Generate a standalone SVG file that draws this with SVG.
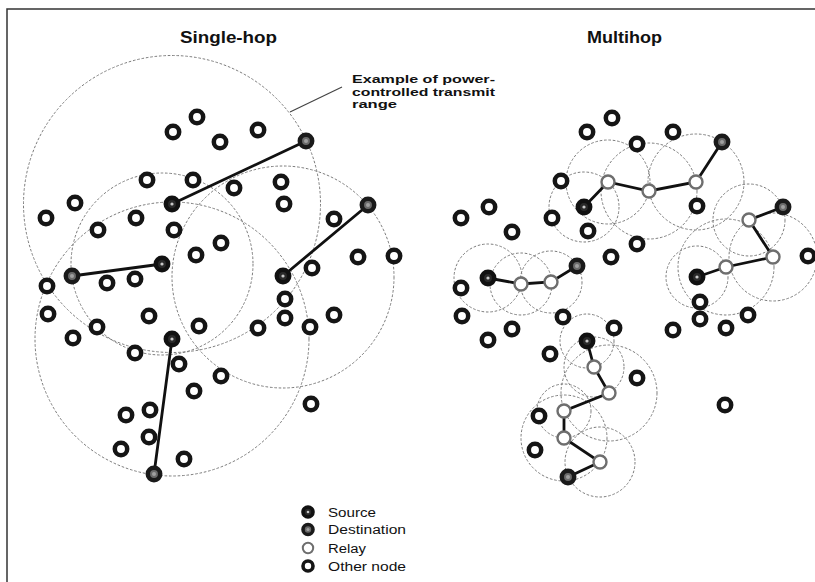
<svg xmlns="http://www.w3.org/2000/svg" xmlns:xlink="http://www.w3.org/1999/xlink" width="815" height="582" viewBox="0 0 815 582">
  <style>
    .frame { stroke: #333; stroke-width: 1.5; fill: none; }
    .title { font-family: "Liberation Sans", Arial, sans-serif; font-weight: bold; font-size: 16px; fill: #111; }
    .note { font-family: "Liberation Sans", Arial, sans-serif; font-weight: bold; font-size: 10.5px; fill: #111; }
    .key { font-family: "Liberation Sans", Arial, sans-serif; font-size: 12.5px; fill: #111; }
    .range { fill: none; stroke: #7c7c7c; stroke-width: 1; stroke-dasharray: 2.6 1.8; }
    .link { stroke: #111; stroke-width: 2.8; stroke-linecap: round; fill: none; }
    .leader { stroke: #444; stroke-width: 1.2; fill: none; }
  </style>
  <defs>
    <!-- node glyphs -->
    <g id="o"><circle r="6.2" fill="#fff" stroke="#151515" stroke-width="4.5"/></g>
    <g id="r"><circle r="6.5" fill="#fff" stroke="#6e6e6e" stroke-width="2.4"/></g>
    <g id="s"><circle r="6.2" fill="#2a2a2a" stroke="#111" stroke-width="4.5"/><circle r="1.6" fill="#c8c8c8"/></g>
    <g id="d"><circle r="6.2" fill="#6a6a6a" stroke="#1a1a1a" stroke-width="4.5"/><circle r="2" fill="#a0a0a0"/></g>
    <!-- smaller key glyphs -->
    <g id="ko"><circle r="5" fill="#fff" stroke="#151515" stroke-width="3.6"/></g>
    <g id="kr"><circle r="5.2" fill="#fff" stroke="#6e6e6e" stroke-width="2"/></g>
    <g id="ks"><circle r="5" fill="#2a2a2a" stroke="#111" stroke-width="3.6"/><circle r="1.3" fill="#c8c8c8"/></g>
    <g id="kd"><circle r="5" fill="#6a6a6a" stroke="#1a1a1a" stroke-width="3.6"/><circle r="1.6" fill="#a0a0a0"/></g>
  </defs>

  <rect width="815" height="582" fill="#fff"/>
  <path class="frame" d="M7 582 V9 H815"/>

  <text class="title" x="180" y="43" textLength="97" lengthAdjust="spacingAndGlyphs">Single-hop</text>
  <text class="title" x="587" y="43" textLength="75" lengthAdjust="spacingAndGlyphs">Multihop</text>

  <g id="annotation">
    <line class="leader" x1="290" y1="112" x2="342" y2="87"/>
    <text class="note" x="352" y="83" textLength="143" lengthAdjust="spacingAndGlyphs">Example of power-</text>
    <text class="note" x="352" y="95.5" textLength="143" lengthAdjust="spacingAndGlyphs">controlled transmit</text>
    <text class="note" x="352" y="108" textLength="45" lengthAdjust="spacingAndGlyphs">range</text>
  </g>

  <!-- transmit ranges -->
  <g id="ranges">
    <circle class="range" cx="172" cy="204" r="148.5"/>
    <circle class="range" cx="172" cy="339" r="137"/>
    <circle class="range" cx="283" cy="277" r="111"/>
    <circle class="range" cx="162" cy="264" r="91"/>

    <circle class="range" cx="584" cy="207" r="35"/>
    <circle class="range" cx="608" cy="182" r="42"/>
    <circle class="range" cx="649" cy="191" r="48"/>
    <circle class="range" cx="696" cy="182" r="48"/>

    <circle class="range" cx="488" cy="278" r="34"/>
    <circle class="range" cx="521" cy="284" r="31"/>
    <circle class="range" cx="551" cy="282" r="31"/>

    <circle class="range" cx="697" cy="277" r="31"/>
    <circle class="range" cx="726" cy="267" r="48"/>
    <circle class="range" cx="773" cy="257" r="44"/>
    <circle class="range" cx="749" cy="220" r="36"/>

    <circle class="range" cx="587" cy="341" r="27"/>
    <circle class="range" cx="594" cy="367" r="30"/>
    <circle class="range" cx="609" cy="393" r="48"/>
    <circle class="range" cx="564" cy="411" r="27"/>
    <circle class="range" cx="564" cy="438" r="43"/>
    <circle class="range" cx="600" cy="462" r="35"/>
  </g>

  <!-- connectors -->
  <g id="connectors">
    <line class="link" x1="172" y1="204" x2="306" y2="141"/>
    <line class="link" x1="162" y1="264" x2="72" y2="276"/>
    <line class="link" x1="283" y1="276" x2="368" y2="205"/>
    <line class="link" x1="172" y1="339" x2="154" y2="474"/>
    <polyline class="link" points="584,207 608,182 649,191 696,182 722,142"/>
    <polyline class="link" points="488,278 521,284 551,282 577,266"/>
    <polyline class="link" points="697,277 726,267 773,257 749,220 783,207"/>
    <polyline class="link" points="587,341 594,367 609,393 564,411 564,438 600,462 568,477"/>
  </g>

  <!-- single-hop nodes -->
  <g id="single-hop">
    <g id="a1"><use href="#o" x="197" y="117"/></g>
    <g id="a2"><use href="#o" x="173" y="132"/></g>
    <g id="a3"><use href="#o" x="220" y="142"/></g>
    <g id="a4"><use href="#o" x="258" y="130"/></g>
    <g id="a5"><use href="#o" x="147" y="180"/></g>
    <g id="a6"><use href="#o" x="193" y="180"/></g>
    <g id="a7"><use href="#o" x="234" y="188"/></g>
    <g id="a8"><use href="#o" x="281" y="182"/></g>
    <g id="a9"><use href="#o" x="75" y="203"/></g>
    <g id="a10"><use href="#o" x="46" y="218"/></g>
    <g id="a11"><use href="#o" x="284" y="204"/></g>
    <g id="a12"><use href="#o" x="98" y="230"/></g>
    <g id="a13"><use href="#o" x="136" y="218"/></g>
    <g id="a14"><use href="#o" x="174" y="230"/></g>
    <g id="a15"><use href="#o" x="196" y="255"/></g>
    <g id="a16"><use href="#o" x="221" y="243"/></g>
    <g id="a17"><use href="#o" x="334" y="219"/></g>
    <g id="a18"><use href="#o" x="358" y="257"/></g>
    <g id="a19"><use href="#o" x="394" y="256"/></g>
    <g id="a20"><use href="#o" x="107" y="283"/></g>
    <g id="a21"><use href="#o" x="135" y="279"/></g>
    <g id="a22"><use href="#o" x="312" y="268"/></g>
    <g id="a23"><use href="#o" x="47" y="286"/></g>
    <g id="a24"><use href="#o" x="285" y="299"/></g>
    <g id="a25"><use href="#o" x="285" y="318"/></g>
    <g id="a26"><use href="#o" x="48" y="314"/></g>
    <g id="a27"><use href="#o" x="149" y="316"/></g>
    <g id="a28"><use href="#o" x="97" y="327"/></g>
    <g id="a29"><use href="#o" x="199" y="326"/></g>
    <g id="a30"><use href="#o" x="258" y="328"/></g>
    <g id="a31"><use href="#o" x="310" y="327"/></g>
    <g id="a32"><use href="#o" x="334" y="315"/></g>
    <g id="a33"><use href="#o" x="73" y="338"/></g>
    <g id="a34"><use href="#o" x="135" y="353"/></g>
    <g id="a35"><use href="#o" x="179" y="364"/></g>
    <g id="a36"><use href="#o" x="221" y="376"/></g>
    <g id="a37"><use href="#o" x="194" y="391"/></g>
    <g id="a38"><use href="#o" x="311" y="404"/></g>
    <g id="a39"><use href="#o" x="150" y="410"/></g>
    <g id="a40"><use href="#o" x="126" y="415"/></g>
    <g id="a41"><use href="#o" x="149" y="437"/></g>
    <g id="a42"><use href="#o" x="121" y="449"/></g>
    <g id="a43"><use href="#o" x="184" y="459"/></g>
    <g id="a-src1"><use href="#s" x="172" y="204"/></g>
    <g id="a-dst1"><use href="#d" x="306" y="141"/></g>
    <g id="a-src2"><use href="#s" x="162" y="264"/></g>
    <g id="a-dst2"><use href="#d" x="72" y="276"/></g>
    <g id="a-src3"><use href="#s" x="283" y="276"/></g>
    <g id="a-dst3"><use href="#d" x="368" y="205"/></g>
    <g id="a-src4"><use href="#s" x="172" y="339"/></g>
    <g id="a-dst4"><use href="#d" x="154" y="474"/></g>
  </g>

  <!-- multihop nodes -->
  <g id="multihop">
    <g id="b1"><use href="#o" x="612" y="118"/></g>
    <g id="b2"><use href="#o" x="587" y="132"/></g>
    <g id="b3"><use href="#o" x="637" y="144"/></g>
    <g id="b4"><use href="#o" x="673" y="132"/></g>
    <g id="b5"><use href="#o" x="561" y="181"/></g>
    <g id="b6"><use href="#o" x="697" y="206"/></g>
    <g id="b7"><use href="#o" x="489" y="207"/></g>
    <g id="b8"><use href="#o" x="461" y="218"/></g>
    <g id="b9"><use href="#o" x="552" y="218"/></g>
    <g id="b10"><use href="#o" x="512" y="232"/></g>
    <g id="b11"><use href="#o" x="588" y="231"/></g>
    <g id="b12"><use href="#o" x="637" y="244"/></g>
    <g id="b13"><use href="#o" x="611" y="257"/></g>
    <g id="b14"><use href="#o" x="808" y="256"/></g>
    <g id="b15"><use href="#o" x="461" y="288"/></g>
    <g id="b16"><use href="#o" x="462" y="316"/></g>
    <g id="b17"><use href="#o" x="563" y="317"/></g>
    <g id="b18"><use href="#o" x="512" y="329"/></g>
    <g id="b19"><use href="#o" x="614" y="328"/></g>
    <g id="b20"><use href="#o" x="488" y="340"/></g>
    <g id="b21"><use href="#o" x="700" y="302"/></g>
    <g id="b22"><use href="#o" x="700" y="319"/></g>
    <g id="b23"><use href="#o" x="673" y="330"/></g>
    <g id="b24"><use href="#o" x="726" y="328"/></g>
    <g id="b25"><use href="#o" x="748" y="315"/></g>
    <g id="b26"><use href="#o" x="550" y="354"/></g>
    <g id="b27"><use href="#o" x="637" y="378"/></g>
    <g id="b28"><use href="#o" x="539" y="416"/></g>
    <g id="b29"><use href="#o" x="535" y="450"/></g>
    <g id="b30"><use href="#o" x="725" y="405"/></g>

    <g id="b-relay1"><use href="#r" x="608" y="182"/></g>
    <g id="b-relay2"><use href="#r" x="649" y="191"/></g>
    <g id="b-relay3"><use href="#r" x="696" y="182"/></g>
    <g id="b-relay4"><use href="#r" x="521" y="284"/></g>
    <g id="b-relay5"><use href="#r" x="551" y="282"/></g>
    <g id="b-relay6"><use href="#r" x="726" y="267"/></g>
    <g id="b-relay7"><use href="#r" x="773" y="257"/></g>
    <g id="b-relay8"><use href="#r" x="749" y="220"/></g>
    <g id="b-relay9"><use href="#r" x="594" y="367"/></g>
    <g id="b-relay10"><use href="#r" x="609" y="393"/></g>
    <g id="b-relay11"><use href="#r" x="564" y="411"/></g>
    <g id="b-relay12"><use href="#r" x="564" y="438"/></g>
    <g id="b-relay13"><use href="#r" x="600" y="462"/></g>

    <g id="b-src1"><use href="#s" x="584" y="207"/></g>
    <g id="b-dst1"><use href="#d" x="722" y="142"/></g>
    <g id="b-src2"><use href="#s" x="488" y="278"/></g>
    <g id="b-dst2"><use href="#d" x="577" y="266"/></g>
    <g id="b-src3"><use href="#s" x="697" y="277"/></g>
    <g id="b-dst3"><use href="#d" x="783" y="207"/></g>
    <g id="b-src4"><use href="#s" x="587" y="341"/></g>
    <g id="b-dst4"><use href="#d" x="568" y="477"/></g>
  </g>

  <!-- key -->
  <g id="key">
    <use href="#ks" x="308" y="512"/>
    <text class="key" x="328" y="516.5" textLength="48" lengthAdjust="spacingAndGlyphs">Source</text>
    <use href="#kd" x="308" y="529.5"/>
    <text class="key" x="328" y="534" textLength="78" lengthAdjust="spacingAndGlyphs">Destination</text>
    <use href="#kr" x="308" y="548"/>
    <text class="key" x="328" y="552.5" textLength="38" lengthAdjust="spacingAndGlyphs">Relay</text>
    <use href="#ko" x="308" y="566"/>
    <text class="key" x="328" y="570.5" textLength="78" lengthAdjust="spacingAndGlyphs">Other node</text>
  </g>
</svg>
